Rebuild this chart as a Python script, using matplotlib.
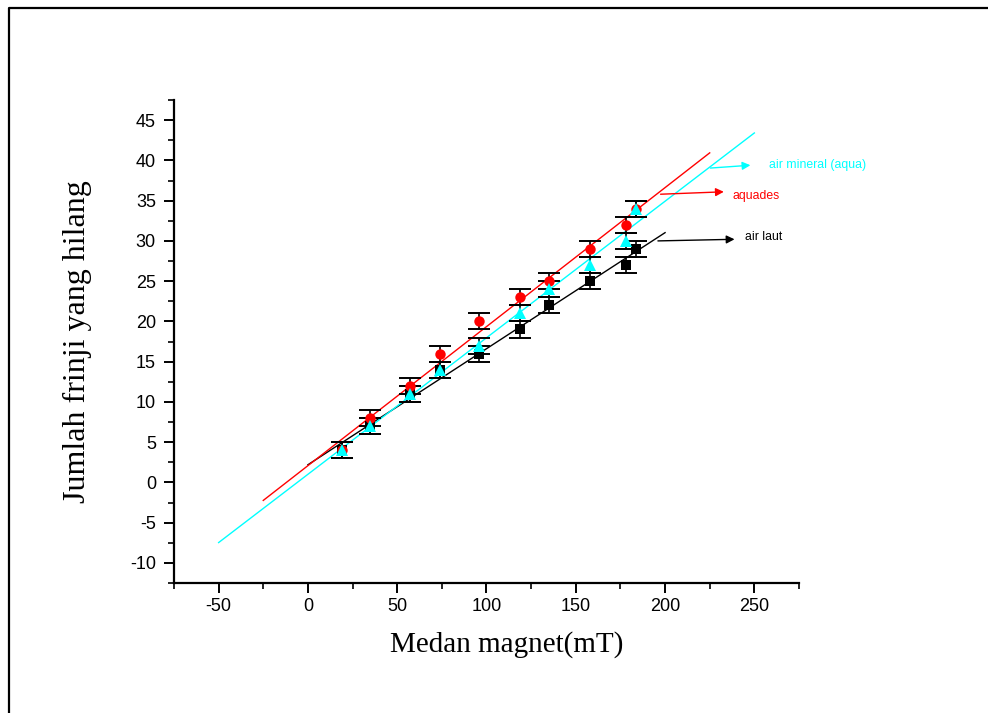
import numpy as np
import matplotlib
matplotlib.use("Agg")
import matplotlib.pyplot as plt
from matplotlib.lines import Line2D
from matplotlib.ticker import MultipleLocator

# magnetic field (mT) for each measurement
field = [19, 35, 57, 74, 96, 119, 135, 158, 178, 184]

# lost fringes per liquid
air_laut = [4, 7, 11, 14, 16, 19, 22, 25, 27, 29]
aquades = [4, 8, 12, 16, 20, 23, 25, 29, 32, 34]
aqua = [4, 7, 11, 14, 17, 21, 24, 27, 30, 34]
err = [1, 1, 1, 1, 1, 1, 1, 1, 1, 1]

# x-range each fitted line is drawn over
fit_span = {"air laut": (0, 200), "aquades": (-25, 225), "aqua": (-50, 250)}

plt.rcParams["font.family"] = ["Liberation Sans", "DejaVu Sans"]
plt.rcParams["axes.unicode_minus"] = False

fig = plt.figure(figsize=(9.88, 7.13), dpi=100)
ax = fig.add_axes([0.1761, 0.1823, 0.8087 - 0.1761, 0.8597 - 0.1823])

series = [
    ("air laut", air_laut, "black", "s", 6.5),
    ("aquades", aquades, "#ff0000", "o", 7.5),
    ("aqua", aqua, "#00ffff", "^", 8.5),
]

x = np.array(field, dtype=float)
for name, ys, col, mk, ms in series:
    ys = np.array(ys, dtype=float)
    slope, icpt = np.polyfit(x, ys, 1)
    x0, x1 = fit_span[name]
    xl = np.array([x0, x1], dtype=float)
    ax.plot(xl, slope * xl + icpt, color=col, lw=1.0, zorder=2)

for name, ys, col, mk, ms in series:
    ax.errorbar(field, ys, yerr=err, fmt="none", ecolor="black", elinewidth=1.2,
                capsize=8, capthick=1.4, zorder=3)
    ax.plot(field, ys, linestyle="none", marker=mk, color=col, markersize=ms,
            markeredgewidth=0, zorder=4)

ax.set_xlim(-75, 275)
ax.set_ylim(-12.5, 47.5)
ax.xaxis.set_major_locator(MultipleLocator(50))
ax.xaxis.set_minor_locator(MultipleLocator(25))
ax.yaxis.set_major_locator(MultipleLocator(5))
ax.yaxis.set_minor_locator(MultipleLocator(2.5))

for side in ("top", "right"):
    ax.spines[side].set_visible(False)
for side in ("left", "bottom"):
    ax.spines[side].set_linewidth(1.6)

ax.tick_params(which="major", direction="out", length=7, width=1.4, labelsize=13)
ax.tick_params(axis="y", which="major", pad=6)
ax.tick_params(axis="x", which="major", pad=4)
ax.tick_params(which="minor", direction="out", length=4, width=1.2)

ax.set_xlabel("Medan magnet(mT)", family="Liberation Serif", fontsize=21, va="center")
ax.xaxis.set_label_coords(0.533, -0.128)
ax.set_ylabel("Jumlah frinji yang hilang", family="Liberation Serif", fontsize=23, va="center")
ax.yaxis.set_label_coords(-0.155, 0.5)

# arrow labels
arrows = [
    ("air mineral (aqua)", "#00ffff", (225.4, 39.05), (247.8, 39.4), (258, 39.4)),
    ("aquades", "#ff0000", (197.5, 35.8), (232.9, 36.1), (238, 35.6)),
    ("air laut", "black", (196, 30.0), (238.9, 30.2), (244.6, 30.5)),
]
for label, col, start, end, tpos in arrows:
    ax.annotate("", xy=end, xytext=start,
                arrowprops=dict(arrowstyle="-|>", color=col, lw=1.0, mutation_scale=12,
                                shrinkA=0, shrinkB=0))
    ax.text(tpos[0], tpos[1], label, color=col, fontsize=8.8, ha="left", va="center",
            clip_on=False)

# outer frame (top and left edges)
W, H = 988, 713
fig.add_artist(Line2D([9 / W, 9 / W, 1.0], [0.0, 1 - 8 / H, 1 - 8 / H],
                      transform=fig.transFigure, color="black", lw=1.6))

fig.savefig("out.png", dpi=100)
